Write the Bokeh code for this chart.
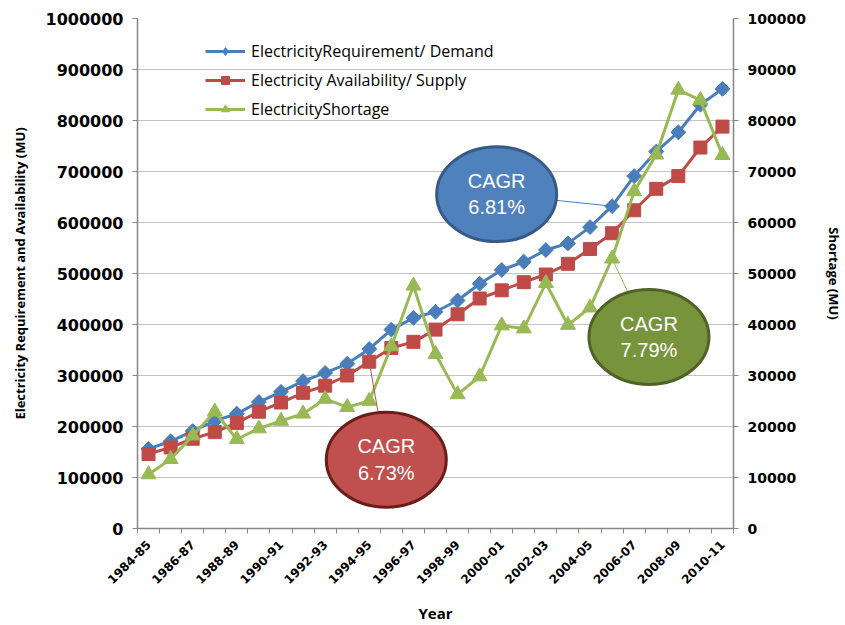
from math import pi

from bokeh.core.properties import value
from bokeh.embed import file_html
from bokeh.models import (ColumnDataSource, CustomJSTickFormatter, FixedTicker,
                          Legend, LegendItem, LinearAxis, NumeralTickFormatter,
                          Range1d)
from bokeh.plotting import figure
from bokeh.resources import INLINE

# Financial years
years = ["1984-85", "1985-86", "1986-87", "1987-88", "1988-89", "1989-90",
         "1990-91", "1991-92", "1992-93", "1993-94", "1994-95", "1995-96",
         "1996-97", "1997-98", "1998-99", "1999-00", "2000-01", "2001-02",
         "2002-03", "2003-04", "2004-05", "2005-06", "2006-07", "2007-08",
         "2008-09", "2009-10", "2010-11"]

# Energy requirement (MU)
demand = [156000, 171000, 191000, 211000, 225000, 248000, 268000, 289000,
          305000, 323000, 352000, 390000, 413000, 425000, 447000, 480000,
          507000, 523000, 546000, 559000, 591000, 632000, 691000, 739000,
          777000, 831000, 862000]

# Energy availability (MU)
supply = [146000, 159000, 176000, 189000, 207000, 229000, 247000, 266000,
          280000, 300000, 327000, 354000, 366000, 390000, 420000, 451000,
          467000, 483000, 498000, 519000, 548000, 579000, 624000, 666000,
          691000, 747000, 788000]

# Energy shortage (MU), plotted on the right-hand axis
shortage = [10600, 13600, 18200, 22900, 17500, 19600, 21100, 22500, 25400,
            23800, 25000, 35700, 47600, 34200, 26300, 29800, 39800, 39200,
            48100, 39900, 43300, 52900, 66100, 73300, 86000, 84000, 73200]

left_ticks = list(range(0, 1000001, 100000))
right_ticks = list(range(0, 100001, 10000))

cagr_text = ["CAGR\n6.81%", "CAGR\n6.73%", "CAGR\n7.79%"]

BLUE = "#4a7ebb"
RED = "#be4b48"
GREEN = "#98b954"
AXIS = "#868686"

# category centres on a numeric axis: one unit per year
xs = [i + 0.5 for i in range(len(years))]
src = ColumnDataSource(dict(x=xs, demand=demand, supply=supply, shortage=shortage))

p = figure(width=845, height=625, output_backend="svg", toolbar_location=None,
           x_range=Range1d(0, len(years)), y_range=Range1d(0, 1000000),
           min_border_left=137, min_border_right=109, min_border_top=18,
           min_border_bottom=96)
p.extra_y_ranges = {"short": Range1d(0, 100000)}
p.outline_line_color = None
p.background_fill_color = "white"
p.border_fill_color = "white"

# x axis: tick marks between years, labels on every other year
xa = p.xaxis[0]
xa.ticker = FixedTicker(ticks=xs[::2], minor_ticks=list(range(len(years) + 1)))
xa.formatter = CustomJSTickFormatter(args=dict(labels=years),
                                     code="return labels[Math.floor(tick)]")
xa.major_label_orientation = pi / 4
xa.major_tick_out = 0
xa.major_tick_in = 0
xa.minor_tick_out = 5
xa.minor_tick_in = 0
xa.minor_tick_line_color = AXIS
xa.axis_line_color = AXIS
xa.axis_line_width = 1.5
xa.major_label_text_font = "DejaVu Sans"
xa.major_label_text_font_style = "bold"
xa.major_label_text_font_size = "12px"
xa.major_label_text_color = "black"
xa.major_label_standoff = 9
xa.axis_label = "Year"
xa.axis_label_text_font = "Open Sans"
xa.axis_label_text_font_style = "bold"
xa.axis_label_text_font_size = "15px"
xa.axis_label_text_color = "black"
xa.axis_label_standoff = 12

# left axis
ya = p.yaxis[0]
ya.ticker = FixedTicker(ticks=left_ticks)
ya.formatter = NumeralTickFormatter(format="0")
ya.axis_label = "Electricity Requirement and Availability (MU)"

# right axis for the shortage series
ra = LinearAxis(y_range_name="short", ticker=FixedTicker(ticks=right_ticks),
                formatter=NumeralTickFormatter(format="0"),
                axis_label="Shortage (MU)")
p.add_layout(ra, "right")

for ax, fs, st in ((ya, "16px", 14), (ra, "14px", 16)):
    ax.axis_line_color = AXIS
    ax.axis_line_width = 1.5
    ax.major_tick_line_color = AXIS
    ax.major_tick_out = 5
    ax.major_tick_in = 0
    ax.minor_tick_out = 0
    ax.minor_tick_in = 0
    ax.major_label_text_font = "DejaVu Sans"
    ax.major_label_text_font_style = "bold"
    ax.major_label_text_font_size = fs
    ax.major_label_text_color = "black"
    ax.major_label_standoff = 9
    ax.axis_label_text_font = "Open Sans"
    ax.axis_label_text_font_style = "bold"
    ax.axis_label_text_font_size = "13px"
    ax.axis_label_text_color = "black"
    ax.axis_label_standoff = st

p.xgrid.visible = False
p.ygrid.ticker = FixedTicker(ticks=left_ticks)
p.ygrid.grid_line_color = "#c4c4c4"
p.ygrid.grid_line_width = 1.2

# series
d_line = p.line("x", "demand", source=src, color=BLUE, line_width=3)
p.scatter("x", "demand", source=src, marker="square", angle=pi / 4,
          size=10.5, color=BLUE)
s_line = p.line("x", "supply", source=src, color=RED, line_width=3)
s_mark = p.scatter("x", "supply", source=src, marker="square", size=13, color=RED)
g_line = p.line("x", "shortage", source=src, color=GREEN, line_width=3,
                y_range_name="short")
g_mark = p.scatter("x", "shortage", source=src, marker="triangle", size=15,
                   color=GREEN, y_range_name="short")

# legend swatch for the demand diamonds (a single off-canvas NaN point)
d_key = p.scatter(x=[float("nan")], y=[float("nan")], marker="diamond",
                  size=15, color=BLUE)

legend = Legend(items=[
    LegendItem(label="ElectricityRequirement/ Demand", renderers=[d_line, d_key]),
    LegendItem(label="Electricity Availability/ Supply", renderers=[s_line, s_mark]),
    LegendItem(label="ElectricityShortage", renderers=[g_line, g_mark]),
], location=(68, 408))
legend.border_line_color = None
legend.background_fill_alpha = 0
legend.label_text_font = "Open Sans"
legend.label_text_font_size = "16px"
legend.label_text_color = "black"
legend.glyph_width = 40
legend.glyph_height = 20
legend.label_height = 20
legend.spacing = 7
legend.padding = 5
legend.margin = 0
legend.label_standoff = 6
p.add_layout(legend)

# CAGR callouts: leader line, ellipse, text
i_d, i_s, i_g = 21, 10, 21
p.segment(x0=[16.27], y0=[655600], x1=[xs[i_d]], y1=[demand[i_d]],
          line_color=BLUE, line_width=1)
p.segment(x0=[11.27], y0=[135000], x1=[xs[i_s]], y1=[supply[i_s]],
          line_color="#c0504d", line_width=1)
p.segment(x0=[23.17], y0=[37570], x1=[xs[i_g]], y1=[shortage[i_g]],
          line_color=GREEN, line_width=1, y_range_name="short")

cx = [16.27, 11.27, 23.17]
cy = [655600, 135000, 375700]
p.ellipse(x=cx, y=cy, width=120, height=95, width_units="screen",
          height_units="screen",
          fill_color=["#4f81bd", "#c0504d", "#77933c"],
          line_color=["#375a87", "#6a1d1b", "#4f6228"], line_width=3)
p.text(x=cx, y=cy, text=cagr_text, text_color="white",
       text_font=value("Liberation Sans"), text_font_size="20px",
       text_align="center", text_baseline="middle", text_line_height=1.2)

open("out.html", "w").write(file_html(p, INLINE))
